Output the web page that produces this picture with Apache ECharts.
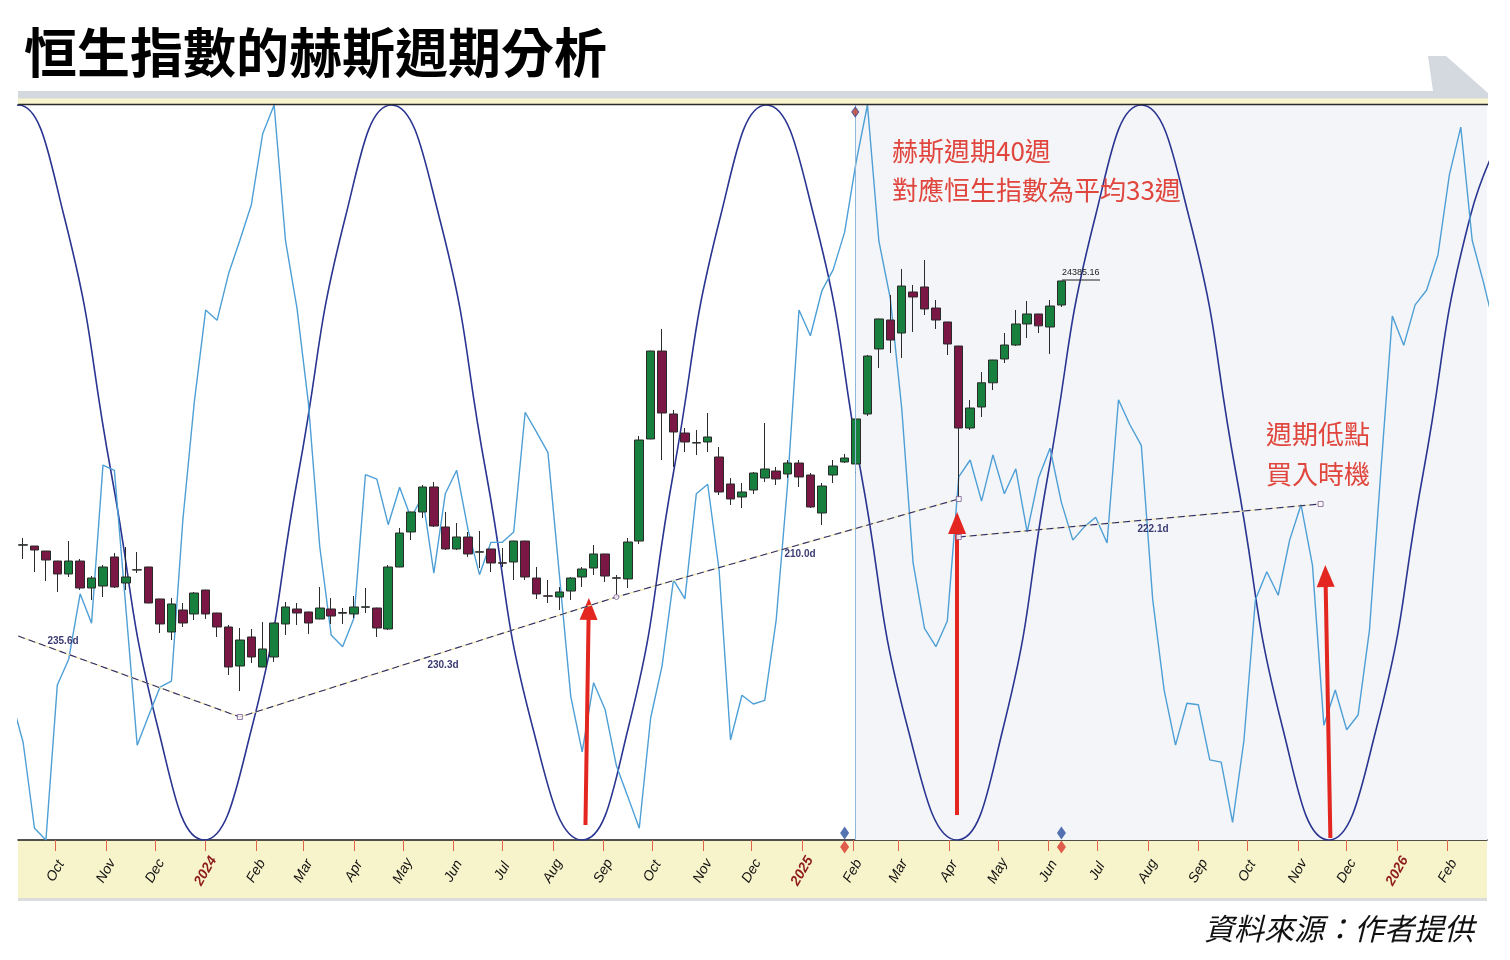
<!DOCTYPE html>
<html><head><meta charset="utf-8">
<script src="https://cdn.jsdelivr.net/npm/echarts@6.0.0/dist/echarts.min.js"></script>
<style>html,body{margin:0;padding:0;background:#fff;}#c{width:1510px;height:960px;}</style>
</head><body><div id="c"></div>
<script>
// ---------- data ----------
const monthTicks = ['2023-10-01','2023-11-01','2023-12-01','2024-01-01','2024-02-01','2024-03-01','2024-04-01','2024-05-01','2024-06-01','2024-07-01','2024-08-01','2024-09-01','2024-10-01','2024-11-01','2024-12-01','2025-01-01','2025-02-01','2025-03-01','2025-04-01','2025-05-01','2025-06-01','2025-07-01','2025-08-01','2025-09-01','2025-10-01','2025-11-01','2025-12-01','2026-01-01','2026-02-01'];
const monthLabels = ['Oct','Nov','Dec','2024','Feb','Mar','Apr','May','Jun','Jul','Aug','Sep','Oct','Nov','Dec','2025','Feb','Mar','Apr','May','Jun','Jul','Aug','Sep','Oct','Nov','Dec','2026','Feb'];

const candleStart = '2023-09-11';   // weekly candles
const candleOpen  = [18150,18130,18012,17776,17470,17776,17139,17186,17871,17257,17564,17635,16880,16101,16620,16526,17092,16549,16219,15298,15983,15275,15511,16290,16644,16573,16408,16644,16560,16526,16685,16667,16172,17635,18461,18933,19523,18579,18060,18343,17985,18060,17735,17753,18248,17375,16955,16927,17068,17399,17611,17942,17380,17352,18248,20656,22732,21246,20797,20570,20585,20231,19594,19287,19452,19735,19900,19830,20089,19806,18909,19806,20113,20066,21246,22780,23464,23157,24125,24243,23747,23417,22850,20915,21411,21982,22544,22874,23370,23606,23299,23818];
const candleClose = [18160,18036,17800,17470,17776,17139,17375,17635,17163,17399,17570,16785,16290,16762,16313,17021,16526,16219,15275,15912,15511,15700,16313,16691,16549,16313,16667,16478,16545,16691,16695,16195,17635,18437,18933,19523,18602,18060,18343,17942,17995,17729,17725,18248,17399,16998,16945,17045,17375,17588,17942,17422,17370,18225,20632,22732,21269,20821,20585,20560,20703,19405,19240,19405,19853,19948,19712,20089,19759,19051,19546,20018,20207,21128,22614,23488,22992,24266,24007,23724,23464,22898,20915,21387,21982,22520,22874,23370,23606,23326,23794,24385];
const candleLow   = [17824,17517,17304,17045,17399,17092,16856,16927,17139,17092,17493,16780,16077,15912,16219,16384,16408,15983,15086,14708,15369,15270,15393,16030,16266,16054,16400,16290,16290,16431,16549,15983,16148,17630,18272,18791,18579,18036,18036,17871,17611,17517,17635,17328,17328,16880,16785,16620,16856,17163,17446,17281,16927,17139,18178,20650,20160,19995,20349,20278,20349,19334,19098,19027,19358,19641,19570,19735,19523,19027,18626,19617,20089,19759,21200,22331,22685,22567,23181,23582,23252,22638,19263,20868,21175,21812,22449,22850,23039,23157,22662,23771];
const candleHigh  = [18319,18130,18012,17780,18248,17824,17422,17682,17965,18107,17989,17640,16885,16903,16785,17045,17095,16555,16266,16195,16172,16337,16320,16809,16785,16580,17163,16903,16667,16950,17139,16675,17682,18555,18940,19570,19641,18933,18673,18461,18485,18065,18083,18255,18255,17635,17328,17163,17399,17635,18154,17945,17446,18319,20726,22740,23252,21340,20915,20868,21269,20467,19735,19617,19877,21033,19995,20160,20160,19853,19617,20160,20302,21175,22640,23495,24054,24668,24290,24880,23936,23420,22855,21576,22237,22525,23157,23700,23912,23610,23936,24390];

const oscStart = '2023-09-04';      // weekly oscillator (0-100 scale)
const oscValues = [19.0,13.3,1.6,0,21.1,24.6,33.5,29.5,51.0,50.3,31.7,12.9,16.9,20.8,21.6,43.5,59.5,72.1,70.7,77.0,81.6,86.4,96.1,100,81.5,72.4,59.5,39.9,27.9,26.3,30.2,49.7,49.1,42.9,48.0,43.8,46.8,36.3,47.1,50.3,42.2,36.1,40.5,40.5,41.9,58.2,55.5,52.7,36.1,19.5,12.0,21.4,17.8,10.1,5.9,1.6,16.6,23.7,35.4,32.8,47.1,48.4,36.7,13.6,19.7,18.5,19.0,29.9,48.4,72.1,68.6,74.7,77.6,82.7,92.2,100,81.5,73.7,58.8,37.7,28.8,26.3,29.8,49.4,51.7,46.1,52.4,47.1,50.5,41.9,49.3,53.3,45.9,40.8,42.6,43.9,40.4,59.9,56.5,53.7,32.7,20.4,12.9,18.6,18.4,10.9,10.6,2.4,13.6,32.7,36.5,33.3,40.8,45.6,37.4,15.6,20.4,15.0,17.0,28.6,50.3,71.3,67.3,72.8,74.8,79.6,90.5,97.0,81.6,75.8,69.4];

const cycleDates  = ['2023-08-10','2023-09-08','2023-10-06','2023-11-04','2023-12-03','2023-12-31','2024-01-29','2024-02-27','2024-03-27','2024-04-24','2024-05-23','2024-06-21','2024-07-20','2024-08-19','2024-09-16','2024-10-14','2024-11-12','2024-12-10','2025-01-08','2025-02-06','2025-03-07','2025-04-06','2025-05-04','2025-06-01','2025-06-30','2025-07-28','2025-08-26','2025-09-24','2025-10-23','2025-11-20','2025-12-19','2026-01-17','2026-02-15','2026-03-16'];
const cycleValues = [85,100,85,50,15,0,15,50,85,100,85,50,15,0,15,50,85,100,85,50,15,0,15,50,85,100,85,50,15,0,15,50,85,100];

const trendADates  = ['2023-09-08','2024-01-22','2024-09-09','2025-04-07'];
const trendAPrices = [16006,14095,16927,19240];
const trendBDates  = ['2025-04-07','2025-11-15'];
const trendBPrices = [18343,19122];
const trendLabels  = ['235.6d','230.3d','210.0d','222.1d'];

const arrowFrom = [['2024-08-21',11546],['2025-04-06',11782],['2025-11-21',11239]];
const arrowTo   = [['2024-08-23',16644],['2025-04-06',18673],['2025-11-18',17422]];

const diamondDates = ['2025-01-27','2025-06-09'];
const futureStart = '2025-02-02T12:00:00Z';
const lastPriceLabel = '24385.16';

// ---------- helpers ----------
const DAY = 86400000;
const ts = s => Date.parse(s.length === 10 ? s + 'T00:00:00Z' : s);
const xMin = ts('2023-09-07T21:00:00Z');
const xMax = ts('2026-02-25T02:00:00Z');
const tickVals = monthTicks.map(ts);

const candleData = candleOpen.map((o, i) => [ts(candleStart) + i * 7 * DAY, o, candleClose[i], candleLow[i], candleHigh[i]]);
const oscData = oscValues.map((v, i) => [ts(oscStart) + i * 7 * DAY, v]);
const cycleData = cycleDates.map((d, i) => [ts(d), cycleValues[i]]);
const trendA = trendADates.map((d, i) => [ts(d), trendAPrices[i]]);
const trendB = trendBDates.map((d, i) => [ts(d), trendBPrices[i]]);

const chart = echarts.init(document.getElementById('c'), null, {renderer: 'canvas'});
const CJK = "'Noto Sans CJK TC','Noto Sans CJK SC',sans-serif";

const option = {
  animation: false,
  backgroundColor: '#ffffff',
  grid: {left: 18, right: 23, top: 105, bottom: 120},
  xAxis: {
    type: 'value', min: xMin, max: xMax,
    splitLine: {show: false},
    axisLine: {show: true, onZero: false, lineStyle: {color: '#1a1a1a', width: 1.5}},
    axisTick: {show: true, customValues: tickVals, length: 11, lineStyle: {color: '#e0654f', width: 1}},
    axisLabel: {
      show: true, customValues: tickVals, rotate: 60, align: 'center', verticalAlign: 'middle', margin: 31,
      fontFamily: 'Liberation Sans', fontStyle: 'italic', fontSize: 14, color: '#111',
      formatter: v => {
        const i = tickVals.indexOf(v);
        const t = i >= 0 ? monthLabels[i] : '';
        return /^\d{4}$/.test(t) ? '{yr|' + t + '}' : t;
      },
      rich: {yr: {color: '#8e1b1b', fontWeight: 'bold', fontStyle: 'italic', fontSize: 14, fontFamily: 'Liberation Sans'}}
    }
  },
  yAxis: [
    {type: 'value', min: 11192, max: 28538, show: false, splitLine: {show: false}},
    {type: 'value', min: 0, max: 100, show: false, splitLine: {show: false}}
  ],
  series: [
    {
      name: 'cycle', type: 'line', yAxisIndex: 1, data: cycleData, smooth: true, showSymbol: false, z: 3,
      lineStyle: {color: '#2a3591', width: 1.6},
      markArea: {silent: true, itemStyle: {color: '#f3f5f8'}, data: [[{xAxis: ts(futureStart)}, {xAxis: xMax}]]},
      markLine: {silent: true, symbol: 'none', label: {show: false}, lineStyle: {color: '#8db8de', width: 1, type: 'solid'},
        data: [{xAxis: ts(futureStart)}]}
    },
    {name: 'osc', type: 'line', yAxisIndex: 1, data: oscData, showSymbol: false, z: 3,
      lineStyle: {color: '#4d9fd6', width: 1.4}},
    {name: 'candles', type: 'candlestick', yAxisIndex: 0, data: candleData, z: 4,
      encode: {x: 0, y: [1, 2, 3, 4]}, barWidth: 9,
      itemStyle: {color: '#17803f', color0: '#7b1744', borderColor: '#2a2a2a', borderColor0: '#2a2a2a', borderWidth: 1}},
    {name: 'trendAbase', type: 'line', yAxisIndex: 0, data: trendA, showSymbol: false, z: 5, lineStyle: {color: '#efe4a2', width: 1.2}},
    {name: 'trendA', type: 'line', yAxisIndex: 0, data: trendA, showSymbol: false, z: 6, lineStyle: {color: '#2e2d6c', width: 1.1, type: [7, 4]}},
    {name: 'trendBbase', type: 'line', yAxisIndex: 0, data: trendB, showSymbol: false, z: 5, lineStyle: {color: '#efe4a2', width: 1.2}},
    {name: 'trendB', type: 'line', yAxisIndex: 0, data: trendB, showSymbol: false, z: 6, lineStyle: {color: '#2e2d6c', width: 1.1, type: [7, 4]}},
    {name: 'vertices', type: 'scatter', yAxisIndex: 0, z: 7, symbol: 'rect', symbolSize: 5,
      itemStyle: {color: '#ffffff', borderColor: '#7a5a92', borderWidth: 1},
      data: [[ts('2024-01-22'), 14095], [ts('2025-04-07'), 19240], [ts('2025-04-07'), 18343], [ts('2025-11-15'), 19122],
             {value: [ts('2024-09-09'), 16927], symbol: 'circle'}]},
    {name: 'diamonds', type: 'scatter', yAxisIndex: 1, z: 8, clip: false, symbol: 'diamond', symbolSize: [9, 13],
      data: [
        ...diamondDates.map(d => ({value: [ts(d), 0], symbolOffset: [0, -7], itemStyle: {color: '#2b4f9e'}})),
        ...diamondDates.map(d => ({value: [ts(d), 0], symbolOffset: [0, 7], itemStyle: {color: '#d9362b'}})),
        {value: [ts(futureStart), 100], symbolOffset: [0, 7], symbolSize: [7, 10], itemStyle: {color: '#c0392b', borderColor: '#2b4f9e', borderWidth: 1}}
      ]},
    {name: 'arrows', type: 'line', yAxisIndex: 0, data: [], z: 10,
      markLine: {silent: true, symbol: ['none', 'triangle'], symbolSize: [18, 22], label: {show: false},
        lineStyle: {color: '#e3261f', width: 4, type: 'solid', opacity: 1},
        data: arrowFrom.map((f, i) => [{coord: [ts(f[0]), f[1]]}, {coord: [ts(arrowTo[i][0]), arrowTo[i][1]]}])}}
  ],
  graphic: [
    {type: 'text', z: 100, style: {text: '恒生指數的赫斯週期分析', x: 24, y: 53, verticalAlign: 'middle', fill: '#000', font: 'bold 53px ' + CJK}},
    {type: 'polygon', z: 100, shape: {points: [[1428, 56], [1446, 56], [1488, 93], [1488, 99], [18, 99], [18, 91], [1433, 91]]}, style: {fill: '#d4d9df'}},
    {type: 'rect', z: 100, shape: {x: 18, y: 98.5, width: 1470, height: 5.5}, style: {fill: '#f8f4cc'}},
    {type: 'line', z: 100, shape: {x1: 18, y1: 104.5, x2: 1488, y2: 104.5}, style: {stroke: '#2a2a2a', lineWidth: 1.5}},
    {type: 'rect', z: -1, shape: {x: 18, y: 840, width: 1469, height: 58}, style: {fill: '#f7f4cb'}},
    {type: 'rect', z: -1, shape: {x: 18, y: 898, width: 1469, height: 3}, style: {fill: '#dcdcdc'}},
    {type: 'text', z: 100, style: {text: '赫斯週期40週', x: 892, y: 151, verticalAlign: 'middle', fill: '#e0463d', font: '26px ' + CJK}},
    {type: 'text', z: 100, style: {text: '對應恒生指數為平均33週', x: 892, y: 190, verticalAlign: 'middle', fill: '#e0463d', font: '26px ' + CJK}},
    {type: 'text', z: 100, style: {text: '週期低點', x: 1266, y: 434, verticalAlign: 'middle', fill: '#e0463d', font: '26px ' + CJK}},
    {type: 'text', z: 100, style: {text: '買入時機', x: 1266, y: 474, verticalAlign: 'middle', fill: '#e0463d', font: '26px ' + CJK}},
    {type: 'text', z: 100, style: {text: trendLabels[0], x: 63, y: 641, align: 'center', verticalAlign: 'middle', fill: '#3b3a73', font: 'bold 10px Liberation Sans'}},
    {type: 'text', z: 100, style: {text: trendLabels[1], x: 443, y: 665, align: 'center', verticalAlign: 'middle', fill: '#3b3a73', font: 'bold 10px Liberation Sans'}},
    {type: 'text', z: 100, style: {text: trendLabels[2], x: 800, y: 554, align: 'center', verticalAlign: 'middle', fill: '#3b3a73', font: 'bold 10px Liberation Sans'}},
    {type: 'text', z: 100, style: {text: trendLabels[3], x: 1153, y: 529, align: 'center', verticalAlign: 'middle', fill: '#3b3a73', font: 'bold 10px Liberation Sans'}},
    {type: 'text', z: 100, style: {text: lastPriceLabel, x: 1062, y: 273, verticalAlign: 'middle', fill: '#222', font: '9px Liberation Sans'}},
    {type: 'line', z: 100, shape: {x1: 1062, y1: 280, x2: 1100, y2: 280}, style: {stroke: '#222', lineWidth: 1}},
    {type: 'text', z: 100, style: {text: '資料來源：作者提供', x: 1474, y: 929, align: 'right', verticalAlign: 'middle', fill: '#111', font: 'italic 30px ' + CJK}}
  ]
};
chart.setOption(option);
</script>
</body></html>
